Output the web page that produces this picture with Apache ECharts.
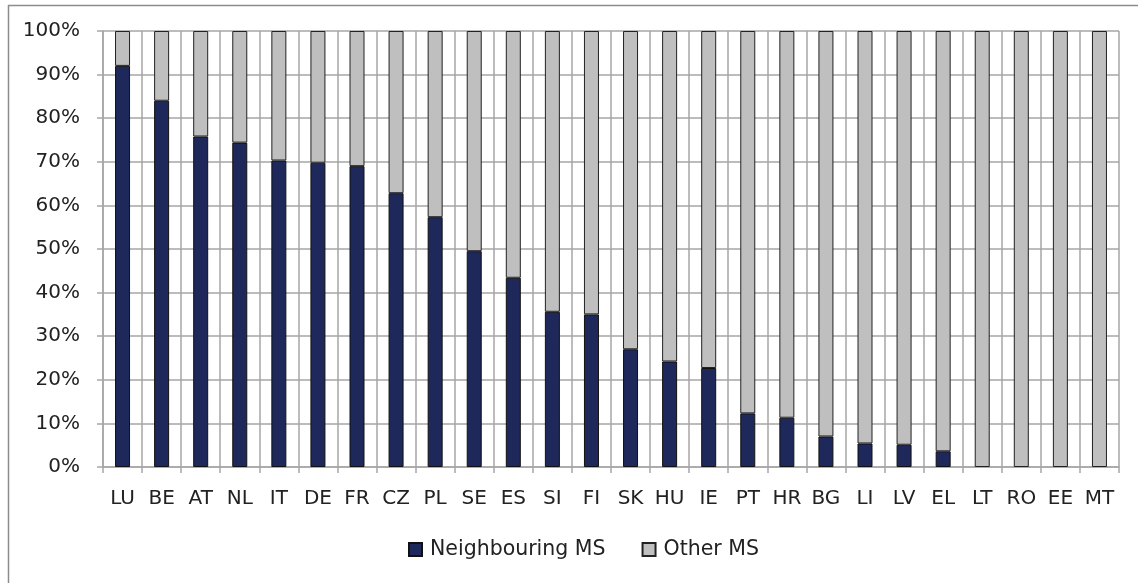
<!DOCTYPE html>
<html>
<head>
<meta charset="utf-8">
<script src="https://cdn.jsdelivr.net/npm/echarts@6/dist/echarts.min.js"></script>
<style>
html,body{margin:0;padding:0;background:#fff;overflow:hidden;}
#chart{width:1138px;height:583px;}
</style>
</head>
<body>
<div id="chart"></div>
<script>
var categories = ['LU','BE','AT','NL','IT','DE','FR','CZ','PL','SE','ES','SI','FI','SK','HU','IE','PT','HR','BG','LI','LV','EL','LT','RO','EE','MT'];
var neighbouringMS = [92.0,84.0,75.8,74.4,70.3,69.8,69.0,62.8,57.3,49.5,43.4,35.6,35.0,27.0,24.2,22.7,12.3,11.3,7.0,5.4,5.1,3.6,0,0,0,0];
var otherMS = [8.0,16.0,24.2,25.6,29.7,30.2,31.0,37.2,42.7,50.5,56.6,64.4,65.0,73.0,75.8,77.3,87.7,88.7,93.0,94.6,94.9,96.4,100,100,100,100];
var yTicks = {min:0, max:100, interval:10};

function noZero(arr){ return arr.map(function(v){ return v === 0 ? '-' : v; }); }

var chart = echarts.init(document.getElementById('chart'), null, {renderer:'canvas'});
var font = 'DejaVu Sans';
var gridColor = '#a6a6a6';
var frameStyle = {stroke:'#8c8c8c', lineWidth:1.5};
chart.setOption({
  animation:false,
  textStyle:{fontFamily:font},
  graphic:[
    {type:'line', silent:true, z:-10, shape:{x1:8, y1:5.5, x2:1138, y2:5.5}, style:frameStyle},
    {type:'line', silent:true, z:-10, shape:{x1:8.5, y1:5, x2:8.5, y2:583}, style:frameStyle}
  ],
  grid:{left:103, right:19, top:31, bottom:116, containLabel:false},
  legend:{
    bottom:18, left:403,
    itemWidth:13, itemHeight:13, itemGap:36,
    icon:'rect',
    textStyle:{fontFamily:font, fontSize:20.5, color:'#222', padding:[0,0,0,3]},
    data:['Neighbouring MS','Other MS']
  },
  xAxis:{
    type:'category', data:categories, boundaryGap:true,
    axisLine:{lineStyle:{color:gridColor, width:1.5}},
    axisTick:{show:true, length:6, alignWithLabel:false, lineStyle:{color:gridColor, width:1.5}},
    splitLine:{show:true, lineStyle:{color:gridColor, width:1.5}},
    axisLabel:{interval:0, margin:22, fontFamily:font, fontSize:20, color:'#222'}
  },
  yAxis:{
    type:'value', min:yTicks.min, max:yTicks.max, interval:yTicks.interval,
    axisLine:{show:true, lineStyle:{color:gridColor, width:1.5}},
    axisTick:{show:true, length:6, lineStyle:{color:gridColor, width:1.5}},
    splitLine:{show:true, lineStyle:{color:gridColor, width:1.5}},
    axisLabel:{formatter:'{value}%', margin:23, fontFamily:font, fontSize:20, color:'#222'}
  },
  series:[
    {name:'Neighbouring MS', type:'bar', stack:'a', data:noZero(neighbouringMS), barWidth:15,
     itemStyle:{color:'#1f285b', borderColor:'#111', borderWidth:1}},
    {name:'Other MS', type:'bar', stack:'a', data:noZero(otherMS), barWidth:15,
     itemStyle:{color:'#bfbfbf', borderColor:'#222', borderWidth:1}}
  ]
});
</script>
</body>
</html>
